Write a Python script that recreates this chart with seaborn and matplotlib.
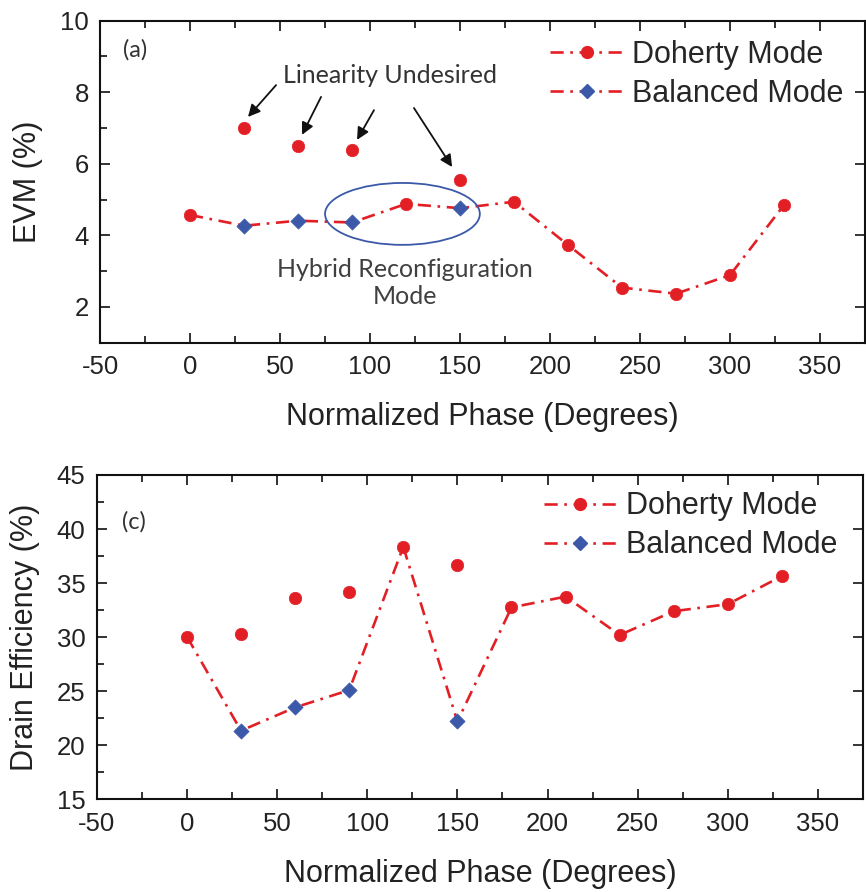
import numpy as np
import pandas as pd
import matplotlib
matplotlib.use("Agg")
import matplotlib.pyplot as plt
import seaborn as sns
from matplotlib.lines import Line2D
from matplotlib.patches import Ellipse
from matplotlib.ticker import MultipleLocator

# data
phase = [0, 30, 60, 90, 120, 150, 180, 210, 240, 270, 300, 330]
balanced_phase = [30, 60, 90, 150]

evm_doherty = [4.57, 7.0, 6.5, 6.39, 4.88, 5.54, 4.94, 3.73, 2.54, 2.37, 2.89, 4.85]
evm_balanced = [4.27, 4.41, 4.36, 4.76]

eff_doherty = [30.05, 30.3, 33.65, 34.2, 38.35, 36.7, 32.75, 33.75, 30.2, 32.4, 33.05, 35.65]
eff_balanced = [21.35, 23.5, 25.1, 22.2]

RED = "#e31f26"
BLUE = "#3b59a8"
DASH = (0, (5, 2.5, 1, 2.5))
NOTE_FONT = ["Lato", "DejaVu Sans"]

sns.set_theme(style="ticks")
plt.rcParams["font.family"] = ["Liberation Sans", "DejaVu Sans"]
plt.rcParams["axes.unicode_minus"] = False


def build_frames(doherty, balanced):
    dh = pd.DataFrame({"phase": phase, "value": doherty})
    bl = pd.DataFrame({"phase": balanced_phase, "value": balanced})
    # the hybrid trace uses the balanced value where one exists
    hybrid = dh.set_index("phase")["value"].copy()
    hybrid.loc[balanced_phase] = balanced
    hybrid = hybrid.reset_index()
    return dh, bl, hybrid


def draw_panel(ax, doherty, balanced, ylim, ymajor, yminor):
    dh, bl, hybrid = build_frames(doherty, balanced)
    sns.lineplot(data=hybrid, x="phase", y="value", ax=ax, color=RED,
                 lw=1.9, linestyle=DASH, sort=False, legend=False)
    sns.scatterplot(data=dh, x="phase", y="value", ax=ax, color=RED,
                    marker="o", s=80, edgecolor=RED, linewidth=0.5, zorder=3)
    sns.scatterplot(data=bl, x="phase", y="value", ax=ax, color=BLUE,
                    marker="D", s=60, edgecolor=BLUE, linewidth=0.5, zorder=4)
    ax.set_xlim(-50, 375)
    ax.set_ylim(*ylim)
    ax.xaxis.set_major_locator(MultipleLocator(50))
    ax.xaxis.set_minor_locator(MultipleLocator(25))
    ax.yaxis.set_major_locator(MultipleLocator(ymajor))
    ax.yaxis.set_minor_locator(MultipleLocator(yminor))
    ax.tick_params(which="both", direction="in", top=True, right=False,
                   labelsize=18.5, colors="#222222", width=1.3)
    ax.tick_params(which="major", length=7.5)
    ax.tick_params(which="minor", length=5)
    ax.tick_params(axis="x", which="both", pad=9)
    ax.tick_params(axis="y", which="both", pad=8)
    # right side carries only the major ticks
    sec = ax.secondary_yaxis("right")
    sec.yaxis.set_major_locator(MultipleLocator(ymajor))
    sec.tick_params(direction="in", length=7.5, width=1.3, labelright=False)
    sec.spines["right"].set_visible(False)
    for s in ax.spines.values():
        s.set_linewidth(1.5)
        s.set_color("#111111")
    ax.set_xlabel("Normalized Phase (Degrees)", fontsize=22, color="#222222")
    ax.xaxis.label.set_va("center")
    ax.xaxis.set_label_coords(0.5, -0.23)

    handles = [
        Line2D([], [], color=RED, lw=1.9, linestyle=DASH, marker="o",
               markersize=8.5, markerfacecolor=RED, markeredgecolor=RED),
        Line2D([], [], color=RED, lw=1.9, linestyle=DASH, marker="D",
               markersize=7, markerfacecolor=BLUE, markeredgecolor=BLUE),
    ]
    return handles


def set_ylabel(ax, text):
    ax.set_ylabel(text, fontsize=22, color="#222222")
    ax.yaxis.label.set_va("center")
    ax.yaxis.set_label_coords(-0.094, 0.5)


fig = plt.figure(figsize=(8.66, 8.92), dpi=100)
ax1 = fig.add_axes([0.1155, 0.6158, 0.8834, 0.361])
ax2 = fig.add_axes([0.1117, 0.1039, 0.885, 0.3636])

# (a) EVM
h = draw_panel(ax1, evm_doherty, evm_balanced, (1, 10), 2, 1)
set_ylabel(ax1, "EVM (%)")
ax1.legend(h, ["Doherty Mode", "Balanced Mode"], loc="upper left",
           bbox_to_anchor=(0.588, 0.94), frameon=False, fontsize=22,
           handlelength=2.4, handletextpad=0.3, labelspacing=0.3,
           borderpad=0, borderaxespad=0)
ax1.text(-30.5, 9.18, "(a)", fontsize=17, color="#333333",
         family=NOTE_FONT, ha="center", va="center")
ax1.text(111, 8.48, "Linearity Undesired", fontsize=18, color="#333333",
         family=NOTE_FONT, ha="center", va="center")
arrows = [((47.8, 8.2), (32.2, 7.31)), ((72.8, 7.87), (62.2, 6.81)),
          ((102.2, 7.5), (92.8, 6.67)), ((124.4, 7.56), (145.6, 5.91))]
for start, end in arrows:
    ax1.annotate("", xy=end, xytext=start,
                 arrowprops=dict(arrowstyle="-|>", color="#111111", lw=1.3,
                                 mutation_scale=18, shrinkA=0, shrinkB=0))
ax1.add_patch(Ellipse((118, 4.6), 86, 1.73, fill=False, edgecolor=BLUE, lw=1.3, zorder=2))
ax1.text(119.4, 2.67, "Hybrid Reconfiguration\nMode", fontsize=18, color="#404040",
         family=NOTE_FONT, ha="center", va="center", linespacing=1.2)

# (c) drain efficiency
h = draw_panel(ax2, eff_doherty, eff_balanced, (15, 45), 5, 2.5)
set_ylabel(ax2, "Drain Efficiency (%)")
ax2.legend(h, ["Doherty Mode", "Balanced Mode"], loc="upper left",
           bbox_to_anchor=(0.583, 0.95), frameon=False, fontsize=22,
           handlelength=2.4, handletextpad=0.3, labelspacing=0.3,
           borderpad=0, borderaxespad=0)
ax2.text(-29.2, 40.65, "(c)", fontsize=17, color="#333333",
         family=NOTE_FONT, ha="center", va="center")

fig.savefig("out.png", dpi=100)
